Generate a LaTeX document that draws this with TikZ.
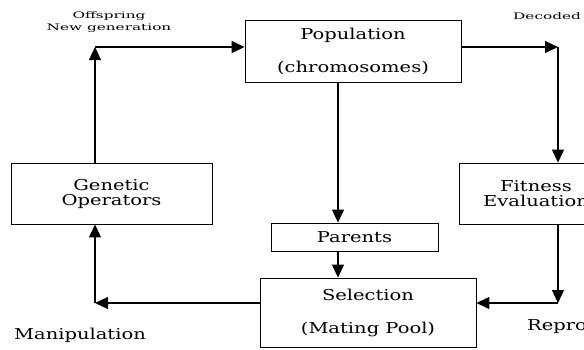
\documentclass[tikz,border=0pt]{standalone}
\usepackage{fontspec}
\setmainfont[FakeStretch=1.3]{DejaVu Serif}
\newfontfamily\smallfont[FakeStretch=1.7]{DejaVu Serif}
\usetikzlibrary{arrows.meta}

\begin{document}
\begin{tikzpicture}[x=1pt, y=-1pt,
    box/.style={draw, line width=0.9pt, inner sep=0pt, align=center,
      font=\fontsize{15}{15}\selectfont},
    lab/.style={inner sep=0pt, align=center, font=\fontsize{15}{15}\selectfont},
    tiny/.style={inner sep=0pt, align=center, font=\smallfont\fontsize{9}{12}\selectfont},
    arr/.style={line width=1.2pt, -{Triangle[length=13pt, width=12pt]}}]

    \useasboundingbox (0, 0) rectangle (584, 349);

    % boxes
    \node[box, minimum width=216pt, minimum height=62pt] (pop) at (353, 51)
      {Population\\[18pt](chromosomes)};
    \node[box, minimum width=201pt, minimum height=61pt] (gen) at (111.5, 193.5)
      {Genetic\\Operators};
    \node[box, minimum width=167pt, minimum height=28pt] (par) at (354.5, 237)
      {Parents};
    \node[box, minimum width=216pt, minimum height=69pt] (sel) at (368, 312.5)
      {Selection\\[18pt](Mating Pool)};
    \node[box, minimum width=154pt, minimum height=61pt] (fit) at (536, 193.5)
      {Fitness\\Evaluation};

    % corners
    \coordinate (tl) at (95, 47);
    \coordinate (tr) at (558, 47);
    \coordinate (bl) at (95, 303);
    \coordinate (br) at (558, 303);
    \coordinate (mid) at (338, 0);

    % labels
    \node[tiny] (off) at (109, 22) {Offspring\\New generation};
    \node[tiny, anchor=west] (dec) at (513, 16) {Decoded};
    \node[lab, anchor=west] (man) at (14, 335) {Manipulation};
    \node[lab, anchor=west] (rep) at (527, 326) {Reproduction};

    % loop
    \draw[arr] (gen.north -| tl) -- (tl);
    \draw[arr] (tl) -- (tl -| pop.west);
    \draw[arr] (tr -| pop.east) -- (tr);
    \draw[arr] (tr) -- (fit.north -| tr);
    \draw[arr] (fit.south -| br) -- (br);
    \draw[arr] (br) -- (br -| sel.east);
    \draw[arr] (bl -| sel.west) -- (bl);
    \draw[arr] (bl) -- (gen.south -| bl);

    \draw[arr] (pop.south -| mid) -- (par.north -| mid);
    \draw[arr] (par.south -| mid) -- (sel.north -| mid);

  \end{tikzpicture}
\end{document}
